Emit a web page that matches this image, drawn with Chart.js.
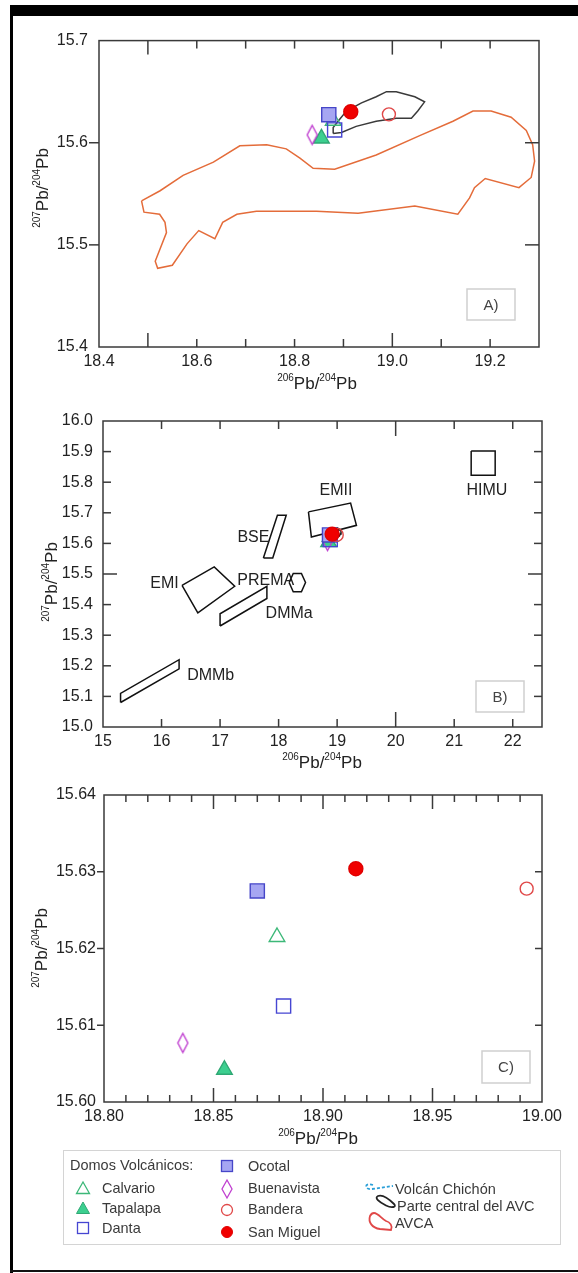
<!DOCTYPE html>
<html>
<head>
<meta charset="utf-8">
<script src="https://cdn.jsdelivr.net/npm/chart.js@4.4.1/dist/chart.umd.min.js"></script>
<style>
html,body{margin:0;padding:0;background:#fff;}
#page{position:relative;width:578px;height:1273px;overflow:hidden;background:#fff;font-family:"Liberation Sans",Arial,sans-serif;}
.bar{position:absolute;background:#000;}
canvas{position:absolute;left:0;}
#legendBox{position:absolute;left:63px;top:1150px;width:496px;height:93px;border:1.5px solid #d4d4d4;}
.lg{position:absolute;font-size:14.5px;line-height:16px;color:#3a3a3a;white-space:nowrap;}
#lgsvg{position:absolute;left:0;top:0;}
</style>
</head>
<body>
<div id="page">
  <div class="bar" style="left:10px;top:5px;width:568px;height:11px;"></div>
  <div class="bar" style="left:10px;top:5px;width:3px;height:1268px;"></div>
  <div class="bar" style="left:10px;top:1270px;width:568px;height:2px;background:#111;"></div>

  <canvas id="cA" width="578" height="375" style="top:20px"></canvas>
  <canvas id="cB" width="578" height="380" style="top:395px"></canvas>
  <canvas id="cC" width="578" height="375" style="top:775px"></canvas>

  <div id="legendBox"></div>
  <svg id="lgsvg" width="578" height="1273" viewBox="0 0 578 1273">
    <polygon points="83,1182 76.5,1193.5 89.5,1193.5" fill="none" stroke="#3cb878" stroke-width="1.3"/>
    <polygon points="83,1202 76.5,1213.5 89.5,1213.5" fill="#3ccf8f" stroke="#2fa874" stroke-width="1"/>
    <rect x="77.5" y="1222.5" width="11" height="11" fill="none" stroke="#4646d2" stroke-width="1.3"/>
    <rect x="221.5" y="1160.5" width="11" height="11" fill="#a6a6f2" stroke="#4646c8" stroke-width="1.3"/>
    <polygon points="227,1180 232,1189 227,1198 222,1189" fill="none" stroke="#c040d0" stroke-width="1.3"/>
    <circle cx="227" cy="1210" r="5.5" fill="none" stroke="#e04848" stroke-width="1.3"/>
    <circle cx="227" cy="1232" r="5.5" fill="#f00000" stroke="#e00000" stroke-width="1"/>
    <path d="M373 1185 C364 1182,364 1190,372 1189 L393 1186" fill="none" stroke="#2a9fd8" stroke-width="1.8" stroke-dasharray="3,2"/>
    <path d="M378 1196 C374 1198,379 1202,386 1205.5 C392 1208.5,397 1207,394 1204 C390 1200,383 1194,378 1196 Z" fill="none" stroke="#222" stroke-width="1.8"/>
    <path d="M370 1216 C368 1222,372 1228,380 1229 L391 1230 C393 1226,390 1222,386 1221 C382 1219,378 1213,374 1213 C372 1213,371 1214,370 1216 Z" fill="none" stroke="#e04848" stroke-width="1.8"/>
  </svg>
  <div class="lg" style="left:70px;top:1157px;">Domos Volcánicos:</div>
  <div class="lg" style="left:102px;top:1180px;">Calvario</div>
  <div class="lg" style="left:102px;top:1200px;">Tapalapa</div>
  <div class="lg" style="left:102px;top:1220px;">Danta</div>
  <div class="lg" style="left:248px;top:1158px;">Ocotal</div>
  <div class="lg" style="left:248px;top:1180px;">Buenavista</div>
  <div class="lg" style="left:248px;top:1201px;">Bandera</div>
  <div class="lg" style="left:248px;top:1224px;">San Miguel</div>
  <div class="lg" style="left:395px;top:1181px;">Volcán Chichón</div>
  <div class="lg" style="left:397px;top:1198px;">Parte central del AVC</div>
  <div class="lg" style="left:395px;top:1215px;">AVCA</div>
</div>

<script>
// ================= DATA =================
const sampleNames = ['San Miguel', 'Bandera', 'Ocotal', 'Danta', 'Buenavista', 'Tapalapa', 'Calvario'];
const pb206 = [18.915, 18.993, 18.870, 18.882, 18.836, 18.855, 18.879];
const pb207 = [15.6304, 15.6278, 15.6275, 15.6125, 15.6077, 15.6042, 15.6215];

// AVCA field (panel A)
const avcaX = [18.487, 18.525, 18.572, 18.634, 18.688, 18.743, 18.783, 18.811, 18.838, 18.882, 18.967, 19.056, 19.124, 19.165, 19.202, 19.243, 19.274, 19.287, 19.291, 19.284, 19.259, 19.190, 19.168, 19.158, 19.134, 19.046, 18.930, 18.845, 18.722, 18.682, 18.653, 18.637, 18.604, 18.580, 18.550, 18.520, 18.515, 18.538, 18.535, 18.524, 18.492, 18.487];
const avcaY = [15.543, 15.553, 15.568, 15.581, 15.597, 15.598, 15.594, 15.585, 15.575, 15.574, 15.588, 15.607, 15.621, 15.631, 15.631, 15.625, 15.612, 15.598, 15.582, 15.566, 15.556, 15.565, 15.556, 15.546, 15.530, 15.538, 15.531, 15.533, 15.533, 15.530, 15.522, 15.506, 15.514, 15.501, 15.480, 15.477, 15.484, 15.512, 15.522, 15.530, 15.532, 15.543];

// Parte central del AVC field
const centralX = [18.879, 18.896, 18.926, 18.967, 19.008, 19.039, 19.052, 19.066, 19.046, 19.008, 18.988, 18.967, 18.937, 18.906, 18.889, 18.879, 18.879];
const centralY = [15.609, 15.610, 15.616, 15.621, 15.624, 15.624, 15.631, 15.640, 15.645, 15.650, 15.650, 15.645, 15.639, 15.631, 15.621, 15.615, 15.609];

// Mantle reservoirs (panel B)
const bseX = [17.74, 17.90, 18.13, 17.98, 17.74];
const bseY = [15.552, 15.552, 15.692, 15.692, 15.552];
const emiiX = [18.51, 19.23, 19.33, 18.56, 18.51];
const emiiY = [15.703, 15.732, 15.659, 15.621, 15.703];
const himuX = [21.29, 21.70, 21.70, 21.29, 21.29];
const himuY = [15.902, 15.902, 15.823, 15.823, 15.902];
const premaX = [18.18, 18.25, 18.39, 18.46, 18.39, 18.25, 18.18];
const premaY = [15.472, 15.502, 15.502, 15.472, 15.442, 15.442, 15.472];
const emiX = [16.35, 16.90, 17.25, 16.62, 16.35];
const emiY = [15.463, 15.523, 15.460, 15.373, 15.463];
const dmmaX = [17.0, 17.0, 17.8, 17.8, 17.0];
const dmmaY = [15.33, 15.37, 15.46, 15.42, 15.33];
const dmmbX = [15.3, 15.3, 16.3, 16.3, 15.3];
const dmmbY = [15.08, 15.11, 15.22, 15.19, 15.08];

const reservoirNames = ['EMII', 'HIMU', 'BSE', 'EMI', 'PREMA', 'DMMa', 'DMMb'];

// Tick labels
const xTicksA = [18.4, 18.6, 18.8, 19.0, 19.2];
const yTicksA = [15.4, 15.5, 15.6, 15.7];
const xTicksB = [15, 16, 17, 18, 19, 20, 21, 22];
const yTicksB = [15.0, 15.1, 15.2, 15.3, 15.4, 15.5, 15.6, 15.7, 15.8, 15.9, 16.0];
const xTicksC = [18.80, 18.85, 18.90, 18.95, 19.00];
const yTicksC = [15.60, 15.61, 15.62, 15.63, 15.64];

// ================= STYLES =================
const FONT = '"Liberation Sans", Arial, sans-serif';
const zip = (xs, ys) => xs.map((x, i) => ({x: x, y: ys[i]}));

function diamondCanvas(w, h, color) {
  const c = document.createElement('canvas');
  c.width = w + 3; c.height = h + 3;
  const g = c.getContext('2d');
  g.strokeStyle = color; g.lineWidth = 1.4;
  g.beginPath();
  g.moveTo(c.width / 2, 1.5); g.lineTo(c.width - 1.5, c.height / 2);
  g.lineTo(c.width / 2, c.height - 1.5); g.lineTo(1.5, c.height / 2);
  g.closePath(); g.stroke();
  return c;
}
const diamond = diamondCanvas(10, 19, '#c040d0');

const markerStyle = {
  'San Miguel': {pointStyle: 'circle', radius: 7, bg: '#f00000', border: '#e00000', order: 1},
  'Bandera':    {pointStyle: 'circle', radius: 6.5, bg: 'rgba(0,0,0,0)', border: '#e04848', order: 2},
  'Ocotal':     {pointStyle: 'rect', radius: 10, bg: '#a6a6f2', border: '#4646c8', order: 3},
  'Danta':      {pointStyle: 'rect', radius: 10, bg: 'rgba(0,0,0,0)', border: '#4646d2', order: 4},
  'Buenavista': {pointStyle: diamond, radius: 8, bg: 'rgba(0,0,0,0)', border: '#c040d0', order: 5},
  'Tapalapa':   {pointStyle: 'triangle', radius: 9, bg: '#3ccf8f', border: '#2fa874', order: 6},
  'Calvario':   {pointStyle: 'triangle', radius: 9, bg: 'rgba(0,0,0,0)', border: '#3cb878', order: 7}
};

function sampleDatasets() {
  return sampleNames.map((n, i) => {
    const s = markerStyle[n];
    return {
      label: n, data: [{x: pb206[i], y: pb207[i]}], showLine: false,
      pointStyle: s.pointStyle, pointRadius: s.radius,
      pointBackgroundColor: s.bg, pointBorderColor: s.border, pointBorderWidth: 1.4,
      order: s.order, clip: false
    };
  });
}
function polyDataset(label, xs, ys, color, width) {
  return {label: label, data: zip(xs, ys), showLine: true, fill: false, tension: 0,
    borderColor: color, borderWidth: width, pointRadius: 0, order: 100, clip: false};
}

function line(ctx, x1, y1, x2, y2) { ctx.beginPath(); ctx.moveTo(x1, y1); ctx.lineTo(x2, y2); ctx.stroke(); }

function drawPb(ctx, a, b, cx, cy, rotate) {
  const big = '17px ' + FONT, small = '10px ' + FONT;
  const parts = [[a, small, -8], ['Pb/', big, 0], [b, small, -8], ['Pb', big, 0]];
  let total = 0;
  parts.forEach(p => { ctx.font = p[1]; p.push(ctx.measureText(p[0]).width); total += p[3]; });
  ctx.save();
  ctx.translate(cx, cy);
  if (rotate) ctx.rotate(-Math.PI / 2);
  ctx.fillStyle = '#222'; ctx.textAlign = 'left'; ctx.textBaseline = 'alphabetic';
  let x = -total / 2;
  parts.forEach(p => { ctx.font = p[1]; ctx.fillText(p[0], x, p[2]); x += p[3]; });
  ctx.restore();
}

const decoPlugin = {
  id: 'deco',
  afterDatasetsDraw(chart, args, o) {
    const ctx = chart.ctx, a = chart.chartArea, xs = chart.scales.x, ys = chart.scales.y;
    ctx.save();
    ctx.strokeStyle = '#3a3a3a'; ctx.lineWidth = 1.5;
    (o.xMarks || []).forEach(m => {
      const px = xs.getPixelForValue(m[0]);
      line(ctx, px, a.top, px, a.top + m[1]);
      line(ctx, px, a.bottom, px, a.bottom - m[1]);
    });
    (o.yLeft || []).forEach(m => { const py = ys.getPixelForValue(m[0]); line(ctx, a.left, py, a.left + m[1], py); });
    (o.yRight || []).forEach(m => { const py = ys.getPixelForValue(m[0]); line(ctx, a.right, py, a.right - m[1], py); });
    ctx.strokeRect(a.left, a.top, a.right - a.left, a.bottom - a.top);

    // reservoir labels (anchored in data space)
    ctx.fillStyle = '#222'; ctx.font = '16px ' + FONT; ctx.textAlign = 'center'; ctx.textBaseline = 'middle';
    (o.labels || []).forEach(l => ctx.fillText(l[0], xs.getPixelForValue(l[1]), ys.getPixelForValue(l[2])));

    // panel tag box
    const b = o.tag;
    ctx.strokeStyle = '#cfcfcf'; ctx.lineWidth = 1.5;
    ctx.strokeRect(b.x, b.y, b.w, b.h);
    ctx.fillStyle = '#444'; ctx.font = '15px ' + FONT;
    ctx.fillText(b.text, b.x + b.w / 2, b.y + b.h / 2 + 1);

    // axis titles
    drawPb(ctx, '206', '204', o.xTitle[0], o.xTitle[1], false);
    drawPb(ctx, '207', '204', o.yTitle[0], o.yTitle[1], true);
    ctx.restore();
  }
};

function buildPanel(id, p) {
  const tickFont = {family: FONT, size: 16};
  return new Chart(document.getElementById(id), {
    type: 'scatter',
    data: {datasets: p.datasets},
    options: {
      responsive: false, animation: false, events: [],
      layout: {padding: {left: 0, top: p.padTop, right: p.padRight, bottom: 0}},
      plugins: {legend: {display: false}, tooltip: {enabled: false}, deco: p.deco},
      scales: {
        x: {
          type: 'linear', position: 'bottom', min: p.xMin, max: p.xMax,
          grid: {display: false, drawTicks: false}, border: {display: false},
          ticks: {font: tickFont, color: '#222', padding: 5, autoSkip: false, maxRotation: 0, minRotation: 0,
                  callback: v => Number(v).toFixed(p.xDec)},
          afterBuildTicks: s => { s.ticks = p.xTicks.map(v => ({value: v})); },
          afterFit: s => { s.height = p.xH; }
        },
        y: {
          type: 'linear', position: 'left', min: p.yMin, max: p.yMax,
          grid: {display: false, drawTicks: false}, border: {display: false},
          ticks: {font: tickFont, color: '#222', padding: p.yPad, autoSkip: false,
                  callback: v => Number(v).toFixed(p.yDec)},
          afterBuildTicks: s => { s.ticks = p.yTicks.map(v => ({value: v})); },
          afterFit: s => { s.width = p.yW; }
        }
      }
    },
    plugins: [decoPlugin]
  });
}

// ---------- Panel A ----------
buildPanel('cA', {
  xMin: 18.4, xMax: 19.3, yMin: 15.4, yMax: 15.7, xTicks: xTicksA, yTicks: yTicksA, xDec: 1, yDec: 1,
  padTop: 19, padRight: 39, yW: 99, xH: 48, yPad: 11,
  datasets: sampleDatasets().concat([
    polyDataset('Parte central del AVC', centralX, centralY, '#3a3a3a', 1.5),
    polyDataset('AVCA', avcaX, avcaY, '#e46c3a', 1.5)
  ]),
  deco: {
    xMarks: [[18.5, 14], [18.6, 8], [18.7, 8], [18.8, 8], [18.9, 8], [19.0, 14], [19.1, 8], [19.2, 8]],
    yLeft: [[15.5, -10], [15.6, -10]],
    yRight: [[15.5, 14], [15.6, 14]],
    tag: {x: 467, y: 269, w: 48, h: 31, text: 'A)'},
    xTitle: [317, 369], yTitle: [48, 168]
  }
});

// ---------- Panel B ----------
const labelPosB = [[18.98, 15.771], [21.56, 15.771], [17.57, 15.62], [16.05, 15.469], [17.78, 15.479], [18.18, 15.37], [16.84, 15.169]];
buildPanel('cB', {
  xMin: 15, xMax: 22.5, yMin: 15.0, yMax: 16.0, xTicks: xTicksB, yTicks: yTicksB, xDec: 0, yDec: 1,
  padTop: 26, padRight: 36, yW: 103, xH: 48, yPad: 10,
  datasets: sampleDatasets().concat([
    polyDataset('Parte central del AVC', centralX, centralY, '#111', 1.5),
    polyDataset('BSE', bseX, bseY, '#111', 1.5),
    polyDataset('EMII', emiiX, emiiY, '#111', 1.5),
    polyDataset('HIMU', himuX, himuY, '#111', 1.5),
    polyDataset('PREMA', premaX, premaY, '#111', 1.5),
    polyDataset('EMI', emiX, emiY, '#111', 1.5),
    polyDataset('DMMa', dmmaX, dmmaY, '#111', 1.5),
    polyDataset('DMMb', dmmbX, dmmbY, '#111', 1.5)
  ]),
  deco: {
    xMarks: [[16, 8], [17, 8], [18, 8], [19, 8], [20, 15], [21, 8], [22, 8]],
    yLeft: [[15.1, 8], [15.2, 8], [15.3, 8], [15.4, 8], [15.5, 14], [15.6, 8], [15.7, 8], [15.8, 8], [15.9, 8]],
    yRight: [[15.1, 8], [15.2, 8], [15.3, 8], [15.4, 8], [15.5, 14], [15.6, 8], [15.7, 8], [15.8, 8], [15.9, 8]],
    labels: reservoirNames.map((n, i) => [n, labelPosB[i][0], labelPosB[i][1]]),
    tag: {x: 476, y: 286, w: 48, h: 31, text: 'B)'},
    xTitle: [322, 373], yTitle: [57, 187]
  }
});

// ---------- Panel C ----------
const xMarksC = [];
[18.81, 18.82, 18.83, 18.84, 18.85, 18.86, 18.87, 18.88, 18.89, 18.90, 18.91, 18.92, 18.93, 18.94, 18.95, 18.96, 18.97, 18.98, 18.99]
  .forEach(v => xMarksC.push([v, (Math.abs(v * 100 % 5) < 0.01 || Math.abs(v * 100 % 5 - 5) < 0.01) ? 14 : 7]));
buildPanel('cC', {
  xMin: 18.80, xMax: 19.00, yMin: 15.60, yMax: 15.64, xTicks: xTicksC, yTicks: yTicksC, xDec: 2, yDec: 2,
  padTop: 20, padRight: 36, yW: 104, xH: 48, yPad: 8,
  datasets: sampleDatasets(),
  deco: {
    xMarks: xMarksC,
    yLeft: [[15.61, -7], [15.62, -7], [15.63, -7]],
    yRight: [[15.61, 7], [15.62, 7], [15.63, 7]],
    tag: {x: 482, y: 276, w: 48, h: 32, text: 'C)'},
    xTitle: [318, 369], yTitle: [47, 173]
  }
});
</script>
</body>
</html>
